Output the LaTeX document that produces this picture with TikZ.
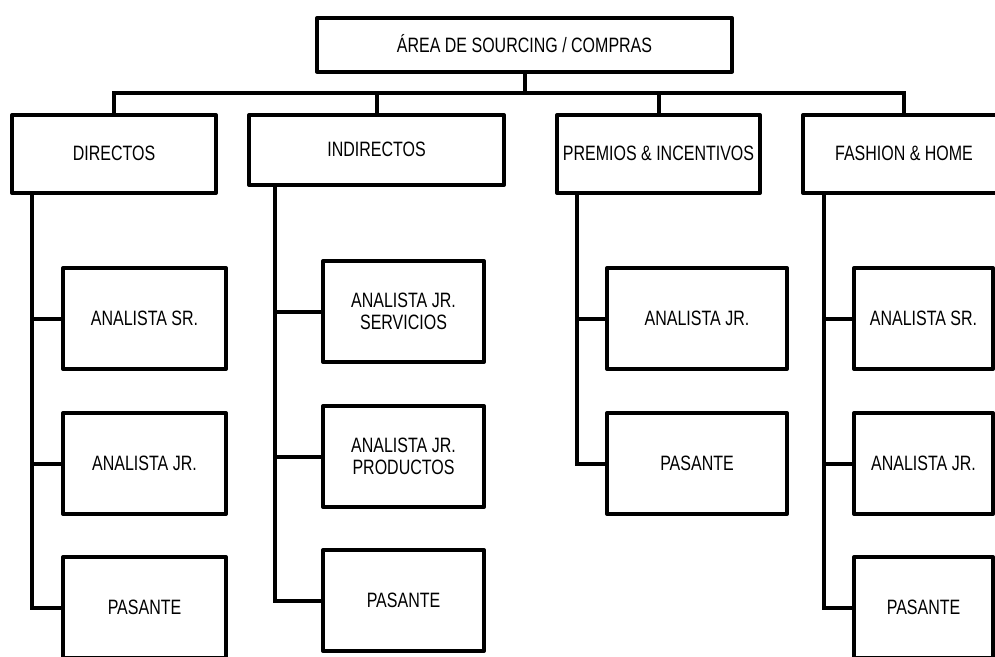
\documentclass[tikz,border=0pt]{standalone}
\usepackage{fontspec}
\setmainfont{Liberation Sans}
\usepackage{graphicx}
\usepackage{calc}
\newcommand{\lbl}[1]{\raisebox{0pt}[\height+5pt][\depth]{\scalebox{1}[1.3]{\begin{tabular}{@{}c@{}}#1\end{tabular}}}}
\begin{document}
\begin{tikzpicture}[x=1pt,y=-1pt,
  box/.style={draw=black,line width=4pt,line join=round,rectangle,inner sep=0pt,
    font=\fontsize{16}{17}\selectfont,align=center},
  conn/.style={draw=black,line width=4pt,line join=miter}]
\useasboundingbox (0,0) rectangle (995,656);
\clip (0,0) rectangle (995,656);
% level 1
\node[box,minimum width=415pt,minimum height=53.5pt] (top) at (524.5,44.75) {\lbl{ÁREA DE SOURCING / COMPRAS}};
% level 2
\node[box,minimum width=204pt,minimum height=78pt] (dir) at (114,154) {\lbl{DIRECTOS}};
\node[box,minimum width=255pt,minimum height=70pt] (ind) at (376.5,150) {\lbl{INDIRECTOS}};
\node[box,minimum width=203pt,minimum height=78pt] (pre) at (658.5,154) {\lbl{PREMIOS \& INCENTIVOS}};
\node[box,minimum width=202pt,minimum height=78pt] (fas) at (904,154) {\lbl{FASHION \& HOME}};
% level 3 - Directos
\node[box,minimum width=163pt,minimum height=101pt] (d1) at (144.5,318.5) {\lbl{ANALISTA SR.}};
\node[box,minimum width=163pt,minimum height=101pt] (d2) at (144.5,463.5) {\lbl{ANALISTA JR.}};
\node[box,minimum width=163pt,minimum height=101pt] (d3) at (144.5,607.5) {\lbl{PASANTE}};
% Indirectos
\node[box,minimum width=161pt,minimum height=101pt] (i1) at (403.5,311.5) {\lbl{ANALISTA JR.\\SERVICIOS}};
\node[box,minimum width=161pt,minimum height=101pt] (i2) at (403.5,456.5) {\lbl{ANALISTA JR.\\PRODUCTOS}};
\node[box,minimum width=161pt,minimum height=101pt] (i3) at (403.5,600.5) {\lbl{PASANTE}};
% Premios
\node[box,minimum width=180pt,minimum height=101pt] (p1) at (697,318.5) {\lbl{ANALISTA JR.}};
\node[box,minimum width=180pt,minimum height=101pt] (p2) at (697,463.5) {\lbl{PASANTE}};
% Fashion
\node[box,minimum width=139pt,minimum height=101pt] (f1) at (923.5,318.5) {\lbl{ANALISTA SR.}};
\node[box,minimum width=139pt,minimum height=101pt] (f2) at (923.5,463.5) {\lbl{ANALISTA JR.}};
\node[box,minimum width=139pt,minimum height=101pt] (f3) at (923.5,607.5) {\lbl{PASANTE}};
% connectors level 1 -> 2
\coordinate (bar) at (524.5,93);
\draw[conn] (top.south) -- (bar);
\draw[conn] (bar) -| (dir.north);
\draw[conn] (bar) -| (ind.north);
\draw[conn] (bar) -| (pre.north);
\draw[conn] (bar) -| (fas.north);
% trunks
\coordinate (dirT) at (32,193);
\coordinate (indT) at (275,185);
\coordinate (preT) at (577,193);
\coordinate (fasT) at (824,193);
\draw[conn] (dirT) |- (d3.west);
\draw[conn] (dirT) |- (d2.west);
\draw[conn] (dirT) |- (d1.west);
\draw[conn] (indT) |- (i3.west);
\draw[conn] (indT) |- (i2.west);
\draw[conn] (indT) |- (i1.west);
\draw[conn] (preT) |- (p2.west);
\draw[conn] (preT) |- (p1.west);
\draw[conn] (fasT) |- (f3.west);
\draw[conn] (fasT) |- (f2.west);
\draw[conn] (fasT) |- (f1.west);
\end{tikzpicture}
\end{document}
